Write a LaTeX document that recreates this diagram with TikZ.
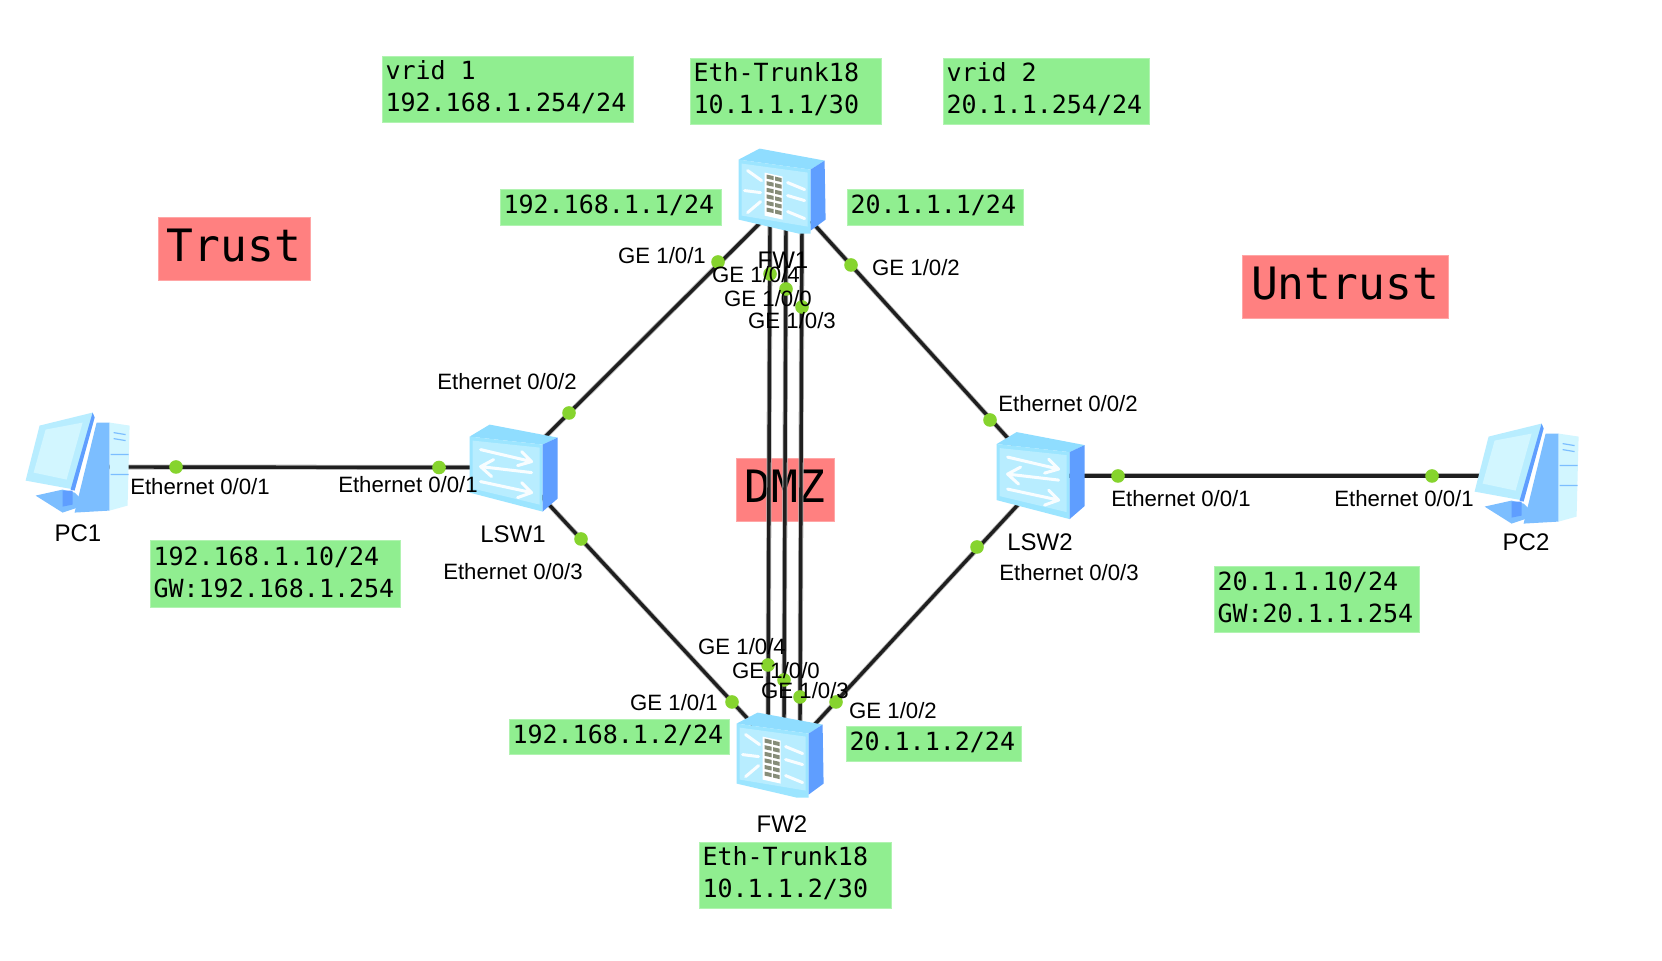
\documentclass[tikz,border=0pt]{standalone}
\usepackage{fontspec}
\setmainfont{Liberation Sans}
\newfontfamily\boxmono{DejaVu Sans Mono}
\usetikzlibrary{calc}
\definecolor{boxgreen}{HTML}{90EE90}
\definecolor{boxred}{HTML}{FF8080}
\definecolor{dotgreen}{HTML}{86D42E}
\definecolor{icontop}{HTML}{8FDDFF}
\definecolor{iconfronta}{HTML}{B8EDFF}
\definecolor{iconfrontb}{HTML}{9CE5FF}
\definecolor{iconscreen}{HTML}{D2F6FF}
\definecolor{iconside}{HTML}{5F9EFF}
\definecolor{iconmid}{HTML}{7CBEFF}
\definecolor{brick}{HTML}{868C78}
\newcommand{\monospacing}{\spaceskip=7.525pt\relax}
\tikzset{
  link/.style={draw=black!88,line width=1.7pt,preaction={draw=black!30,line width=2.5pt}},
  port/.style={circle,fill=dotgreen,inner sep=0pt,minimum size=6.8pt},
  lab/.style={inner sep=0pt,font=\fontsize{11.1}{12}\selectfont},
  devlab/.style={inner sep=0pt,font=\fontsize{12}{13}\selectfont},
  gbox/.style={fill=boxgreen,draw=boxgreen!70!white,line width=0.5pt,inner xsep=1.5pt,inner ysep=0pt,align=left,anchor=north west,
    font=\boxmono\fontsize{12.5}{16}\selectfont},
  rbox/.style={fill=boxred,draw=boxred!70!white,line width=0.5pt,inner sep=0pt,anchor=center,
    text height=16pt,text depth=4pt,font=\boxmono\fontsize{22.3}{24}\selectfont},
  whitearrow/.style={draw=white,line width=1.5pt,line cap=round,line join=round,opacity=0.9},
}
% green text box: name, x1, y1, x2, y2, text
\newcommand{\gboxat}[6]{%
  \pgfmathsetmacro{\bw}{(#4-#2)*0.5}\pgfmathsetmacro{\bh}{(#5-#3)*0.5}%
  \node[gbox,minimum width=\bw pt,minimum height=\bh pt,text width=\bw pt-3pt] (#1) at (#2,#3) {\monospacing #6\par\kern2pt};}
\newcommand{\rboxat}[6]{%
  \pgfmathsetmacro{\bw}{(#4-#2)*0.5}\pgfmathsetmacro{\bh}{(#5-#3)*0.5}%
  \node[rbox,minimum width=\bw pt,minimum height=\bh pt] (#1) at ({(#2+#4)/2},{(#3+#5)/2}) {#6};}
% firewall icon, local px from the top-left corner
\newcommand{\fwicon}[1]{%
\begin{scope}[shift={(#1.north west)}]
  \fill[icontop] (0,11)--(21,0)--(86,12)--(72,21)--cycle;
  \fill[iconfrontb] (0,11)--(72,21)--(72,85)--(60,85)--(0,71)--cycle;
  \fill[iconfronta] (3,15)--(69,24)--(69,78)--(3,67)--cycle;
  \fill[iconside] (72,21)--(86,12)--(87,71)--(72,82)--cycle;
  \fill[white] (26,24)--(44,28)--(44,71)--(26,67)--cycle;
  \foreach \r in {0,1,2,3,4,5}{
    \fill[brick] (28,{26+\r*6.6})--(35,{27.5+\r*6.6})--(35,{31.5+\r*6.6})--(28,{30+\r*6.6})--cycle;
    \fill[brick] (36.5,{28+\r*6.6})--(43,{29.5+\r*6.6})--(43,{33.5+\r*6.6})--(36.5,{32+\r*6.6})--cycle;
  }
  \draw[whitearrow] (9,22)--(23,32);
  \draw[whitearrow] (6,42)--(22,44);
  \draw[whitearrow] (9,64)--(22,53);
  \draw[whitearrow] (49,34)--(66,41);
  \draw[whitearrow] (49,47)--(66,52);
  \draw[whitearrow] (49,63)--(66,70);
\end{scope}}
% switch icon
\newcommand{\swicon}[1]{%
\begin{scope}[shift={(#1.north west)}]
  \fill[icontop] (0,12)--(20,0)--(88,13)--(73,20)--cycle;
  \fill[iconfrontb] (0,12)--(73,20)--(73,87)--(0,68)--cycle;
  \fill[iconfronta] (3,16)--(70,23)--(70,80)--(3,64)--cycle;
  \fill[iconside] (73,20)--(88,13)--(88,74)--(73,87)--cycle;
  \draw[whitearrow] (11,25)--(62,37) (52,27)--(62,37)--(48,41);
  \draw[whitearrow] (62,48)--(11,42) (24,35)--(11,42)--(22,52);
  \draw[whitearrow] (11,57)--(62,68) (52,58)--(62,68)--(48,73);
\end{scope}}
% PC icon
\newcommand{\pcicon}[1]{%
\begin{scope}[shift={(#1.north west)}]
  \fill[iconmid] (71,10)--(84,10)--(84,98)--(49,100)--cycle;
  \fill[iconscreen] (84,10)--(104,13)--(102,93)--(84,98)--cycle;
  \draw[iconmid,line width=0.6pt] (88,20)--(100,22) (88,26)--(100,28) (85,42)--(103,42) (85,62)--(103,62);
  \fill[iconfronta] (14,13)--(67,0)--(69,5)--(49,77)--(0,68)--cycle;
  \fill[iconscreen] (20,17)--(57,10)--(41,67)--(8,60)--cycle;
  \fill[iconside] (67,0)--(69,5)--(49,78)--(45,77)--cycle;
  \fill[iconmid] (10,83)--(37,77)--(49,80)--(61,92)--(37,100)--cycle;
  \fill[iconside] (37,78)--(47,78)--(47,92)--(37,94)--cycle;
\end{scope}}
\begin{document}
\begin{tikzpicture}[x=0.5pt,y=-0.5pt]
\useasboundingbox (0,0) rectangle (1662,961);
\fill[white] (0,0) rectangle (1662,961);

% zone and address boxes
\rboxat{trust}{158}{218}{310}{281}{Trust}
\rboxat{untrust}{1242}{256}{1448}{319}{Untrust}
\rboxat{dmz}{736}{459}{834}{522}{DMZ}
\gboxat{bvrid1}{382}{56}{633}{122}{vrid 1\\192.168.1.254/24}
\gboxat{btrunk1}{690}{58}{881}{124}{Eth-Trunk18\\10.1.1.1/30}
\gboxat{bvrid2}{943}{58}{1149}{124}{vrid 2\\20.1.1.254/24}
\gboxat{bfw1l}{500}{189}{721}{225}{192.168.1.1/24}
\gboxat{bfw1r}{847}{189}{1023}{225}{20.1.1.1/24}
\gboxat{bpc1}{150}{540}{400}{607}{192.168.1.10/24\\GW:192.168.1.254}
\gboxat{bpc2}{1214}{566}{1419}{632}{20.1.1.10/24\\GW:20.1.1.254}
\gboxat{bfw2l}{509}{719}{729}{754}{192.168.1.2/24}
\gboxat{bfw2r}{846}{726}{1021}{761}{20.1.1.2/24}
\gboxat{btrunk2}{699}{842}{891}{908}{Eth-Trunk18\\10.1.1.2/30}

% device anchors
\node[inner sep=0pt,minimum width=43.5pt,minimum height=42.5pt] (FW1) at (782.5,191.5) {};
\node[inner sep=0pt,minimum width=43.5pt,minimum height=42.5pt] (FW2) at (780.5,755.5) {};
\node[inner sep=0pt,minimum width=44pt,minimum height=43.5pt] (LSW1) at (514,468.5) {};
\node[inner sep=0pt,minimum width=44pt,minimum height=43.5pt] (LSW2) at (1041,476) {};
\node[inner sep=0pt,minimum width=52pt,minimum height=50pt] (PC1) at (78,463) {};
\node[inner sep=0pt,minimum width=52pt,minimum height=50pt] (PC2) at (1527,474) {};

% links
\draw[link] ([shift={(-19.5,28.5)}]FW1.center) -- ([shift={(27,-27.5)}]LSW1.center);
\draw[link] ([shift={(28.5,29.5)}]FW1.center) -- ([shift={(-27,-31)}]LSW2.center);
\draw[link] ([shift={(27,27.5)}]LSW1.center) -- ([shift={(-26.5,-30)}]FW2.center);
\draw[link] ([shift={(-21,26.5)}]LSW2.center) -- ([shift={(30.5,-27)}]FW2.center);
\draw[link] ([shift={(-12.5,30)}]FW1.center) -- ([shift={(-12.5,-30)}]FW2.center);
\draw[link] ([shift={(3.5,30)}]FW1.center) -- ([shift={(3.5,-30)}]FW2.center);
\draw[link] ([shift={(19.5,30)}]FW1.center) -- ([shift={(19.5,-30)}]FW2.center);
\draw[link] ([shift={(30,4)}]PC1.center) -- ([shift={(0,-1)}]LSW1.center);
\draw[link] (LSW2.center) -- ([shift={(-30,2)}]PC2.center);

% icons
\fwicon{FW1}
\fwicon{FW2}
\swicon{LSW1}
\swicon{LSW2}
\pcicon{PC1}
\pcicon{PC2}

% ports
\foreach \n/\x/\y in {p1/718/262,p2/851/265,p3/770/274,p4/786/289,p5/802/307,
  p6/569/413,p7/581/539,p8/990/420,p9/977/547,
  p10/768/665,p11/784/680,p12/800/697,p13/732/702,p14/836/702,
  p15/176/467,p16/439/467.5,p17/1118/476,p18/1432/476}
  \node[port] (\n) at (\x,\y) {};

% labels
\node[lab] (l1) at (662,256) {GE 1/0/1};
\node[lab] (l2) at (916,268) {GE 1/0/2};
\node[devlab] (l3) at (783,260) {FW1};
\node[lab] (l4) at (756,275) {GE 1/0/4};
\node[lab] (l5) at (768,299) {GE 1/0/0};
\node[lab] (l6) at (792,321) {GE 1/0/3};
\node[lab] (l7) at (507,382) {Ethernet 0/0/2};
\node[lab] (l8) at (200,487) {Ethernet 0/0/1};
\node[lab] (l9) at (408,485) {Ethernet 0/0/1};
\node[devlab] (l10) at (513,534) {LSW1};
\node[devlab] (l11) at (78,533) {PC1};
\node[lab] (l12) at (513,572) {Ethernet 0/0/3};
\node[lab] (l13) at (1068,404) {Ethernet 0/0/2};
\node[lab] (l14) at (1181,499) {Ethernet 0/0/1};
\node[lab] (l15) at (1404,499) {Ethernet 0/0/1};
\node[devlab] (l16) at (1040,542) {LSW2};
\node[devlab] (l17) at (1526,542) {PC2};
\node[lab] (l18) at (1069,573) {Ethernet 0/0/3};
\node[lab] (l19) at (742,647) {GE 1/0/4};
\node[lab] (l20) at (776,671) {GE 1/0/0};
\node[lab] (l21) at (805,691) {GE 1/0/3};
\node[lab] (l22) at (674,703) {GE 1/0/1};
\node[lab] (l23) at (893,711) {GE 1/0/2};
\node[devlab] (l24) at (782,824) {FW2};
\end{tikzpicture}
\end{document}
